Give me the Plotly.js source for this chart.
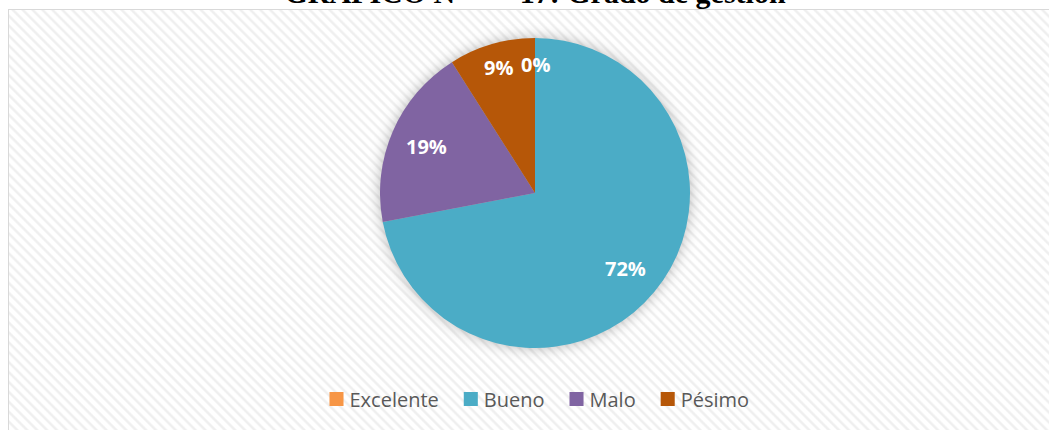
<!DOCTYPE html>
<html>
<head>
<meta charset="utf-8">
<script src="https://cdn.plot.ly/plotly-3.0.1.min.js"></script>
<style>
  html, body { margin: 0; padding: 0; background: #ffffff; }
  #wrap { position: relative; width: 1049px; height: 430px; overflow: hidden; }
  #frame {
    position: absolute; left: 8px; top: 9px; width: 1060px; height: 440px;
    border: 1px solid #d9d9d9; box-sizing: border-box;
    background: repeating-linear-gradient(45deg, #ffffff 0px, #ffffff 2.5px, #efefef 4px, #efefef 5px, #ffffff 6.5px, #ffffff 7px);
  }
  #chart { position: absolute; left: 0; top: 0; width: 1049px; height: 430px; }
  .pielayer { filter: drop-shadow(0px 0px 7px rgba(0,0,0,0.28)); }
  .legend .legendpoints path { transform: translate(27px, 0px) scale(1.17); }
</style>
</head>
<body>
<div id="wrap">
  <div id="frame"></div>
  <div id="chart"></div>
</div>
<script>
const categories = ["Excelente", "Bueno", "Malo", "Pésimo"];
const values = [0, 72, 19, 9];
const percentLabels = ["0%", "72%", "19%", "9%"];
const colors = ["#F79646", "#4BACC6", "#8064A2", "#B65708"];
const chartTitle = "GRÁFICO N°\u00A0\u00A0\u00A0\u00A0\u00A0\u00A0\u00A017: Grado de gestión";

const W = 1049, H = 430;
const pcx = 535, pcy = 193, r = 155;
const titleSize = 30;

const trace = {
  type: "pie",
  labels: categories,
  values: values,
  sort: false,
  direction: "clockwise",
  rotation: 0,
  marker: { colors: colors, line: { color: "#ffffff", width: 0 } },
  textinfo: "none",
  hoverinfo: "label+percent",
  domain: { x: [(pcx - r) / W, (pcx + r) / W], y: [(H - pcy - r) / H, (H - pcy + r) / H] }
};

// data labels, placed at each slice's mid angle (computed from the values)
const total = values.reduce((a, b) => a + b, 0);
const annotations = [];
let cum = 0;
values.forEach(function (v, i) {
  const share = v / total;
  const mid = (cum + share / 2) * 2 * Math.PI;
  cum += share;
  const frac = share > 0.15 ? 0.76 : (share > 0 ? 0.845 : 0.83);
  const px = pcx + frac * r * Math.sin(mid);
  const py = pcy - frac * r * Math.cos(mid);
  annotations.push({
    text: "<b>" + percentLabels[i] + "</b>",
    xref: "paper", yref: "paper",
    x: px / W, y: 1 - py / H,
    xanchor: "center", yanchor: "middle",
    showarrow: false,
    font: { family: "Open Sans, sans-serif", size: 20, color: "#ffffff" }
  });
});

const layout = {
  width: W,
  height: H,
  margin: { l: 0, r: 0, t: 0, b: 0 },
  paper_bgcolor: "rgba(0,0,0,0)",
  plot_bgcolor: "rgba(0,0,0,0)",
  showlegend: true,
  title: {
    text: "<b>" + chartTitle + "</b>",
    font: { family: "Liberation Serif, Times New Roman, serif", size: titleSize, color: "#000000" },
    x: pcx / W, xanchor: "center", xref: "container",
    y: 1, yanchor: "middle", yref: "container"
  },
  legend: {
    orientation: "h",
    x: 532 / W, xanchor: "center",
    y: 31 / H, yanchor: "middle",
    font: { family: "Open Sans, sans-serif", size: 20, color: "#595959" },
    bgcolor: "rgba(0,0,0,0)",
    itemwidth: 30,
    traceorder: "normal"
  },
  annotations: annotations
};

Plotly.newPlot("chart", [trace], layout, { displayModeBar: false, staticPlot: true }).then(function (gd) {
  // the reference title sits mostly above the top edge: put its baseline ~3px below the top
  const t = gd.querySelector(".gtitle");
  if (t) {
    const b = t.getBBox();
    const baseline = b.y + b.height - 0.216 * titleSize;
    const g = t.parentNode;
    g.style.transform = "translate(0px," + (3 - baseline) + "px)";
  }
});
</script>
</body>
</html>
